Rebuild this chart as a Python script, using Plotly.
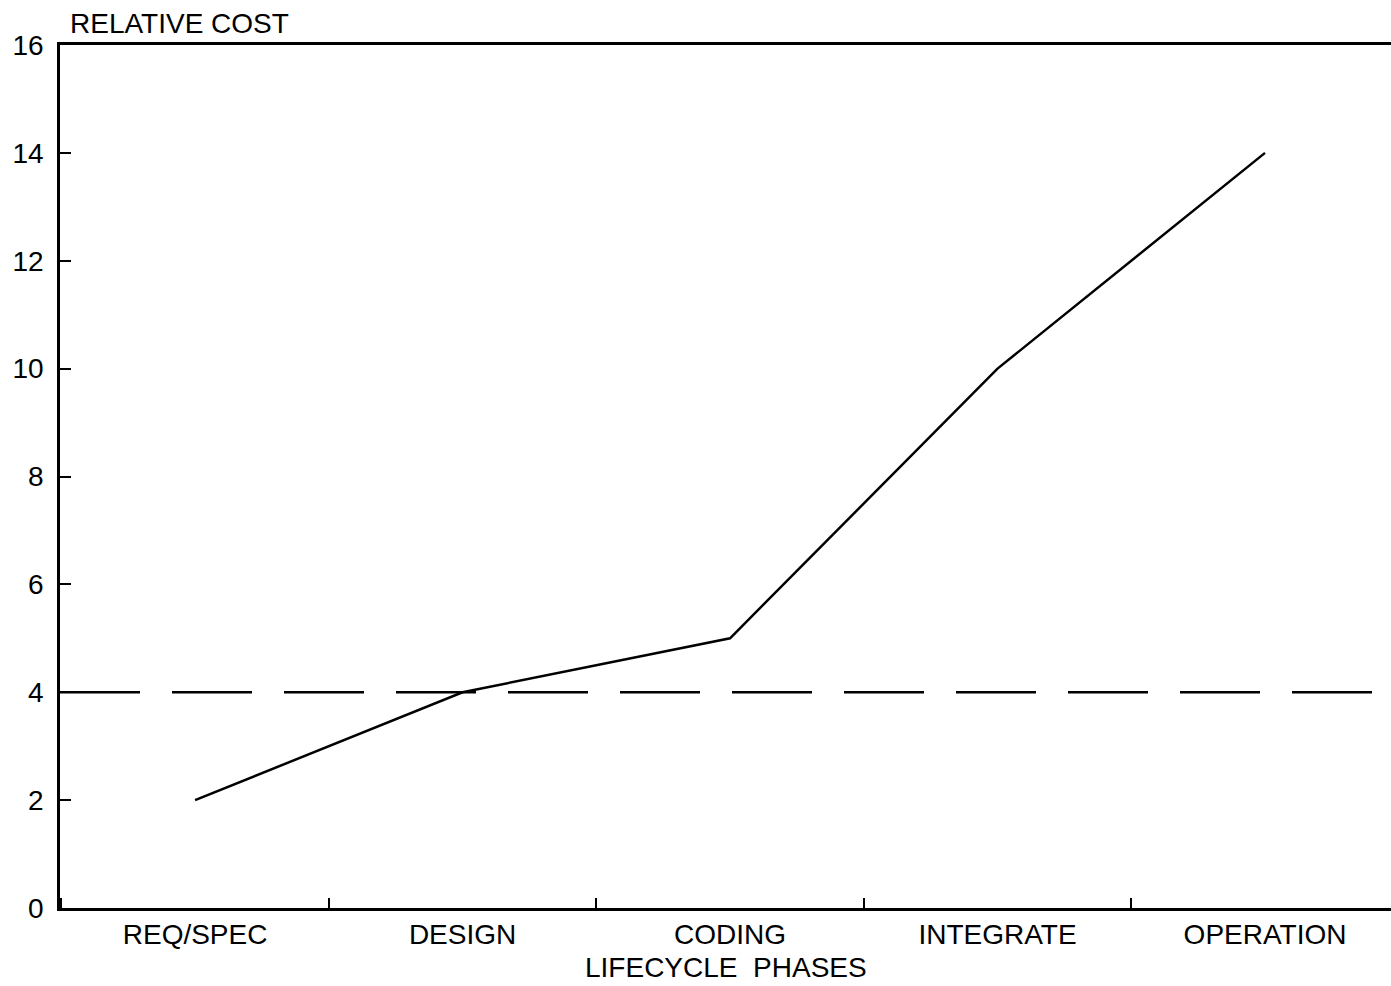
import plotly.graph_objects as go

phases = ["REQ/SPEC", "DESIGN", "CODING", "INTEGRATE", "OPERATION"]
relative_cost = [2, 4, 5, 10, 14]
baseline_cost = 4
y_ticks = [0, 2, 4, 6, 8, 10, 12, 14, 16]

x_idx = list(range(len(phases)))
FONT = "Liberation Sans"

fig = go.Figure()
fig.add_trace(go.Scatter(
    x=x_idx, y=relative_cost, mode="lines",
    line=dict(color="black", width=2.5), showlegend=False, hoverinfo="skip"))

fig.add_shape(type="line", xref="paper", x0=0, x1=1, yref="y",
              y0=baseline_cost, y1=baseline_cost,
              line=dict(color="black", width=2.5, dash="80px,32px"))

fig.update_layout(
    width=1391, height=986,
    margin=dict(l=60, r=0, t=45, b=78),
    paper_bgcolor="white", plot_bgcolor="white",
    font=dict(family=FONT, size=28, color="black"),
    xaxis=dict(
        range=[-0.505, 4.471],
        tickmode="array", tickvals=x_idx, ticktext=phases,
        ticks="", showgrid=False, zeroline=False,
        showline=True, linecolor="black", linewidth=2.5, mirror=True,
        ticklabelstandoff=0,
        tickfont=dict(family=FONT, size=28, color="black"),
        minor=dict(tickmode="linear", tick0=0.5, dtick=1, ticks="inside",
                   ticklen=10, tickwidth=2, tickcolor="black", showgrid=False),
    ),
    yaxis=dict(
        range=[0, 16],
        tickmode="array", tickvals=y_ticks,
        ticks="inside", ticklen=11, tickwidth=2, tickcolor="black",
        showgrid=False, zeroline=False,
        showline=True, linecolor="black", linewidth=2.5,
        ticklabelstandoff=8,
        tickfont=dict(family=FONT, size=28, color="black"),
    ),
    annotations=[
        dict(text="RELATIVE COST", xref="paper", yref="paper", x=0, y=1,
             xanchor="left", yanchor="bottom", xshift=8, yshift=4,
             showarrow=False, font=dict(family=FONT, size=28, color="black")),
        dict(text="LIFECYCLE  PHASES", xref="paper", yref="paper", x=0.5, y=0,
             xanchor="center", yanchor="top", xshift=0, yshift=-42,
             showarrow=False, font=dict(family=FONT, size=28, color="black")),
    ],
)

fig.write_html("out.html", config={"displayModeBar": False},
               post_script="document.body.style.margin='0';document.body.style.overflow='hidden';")
